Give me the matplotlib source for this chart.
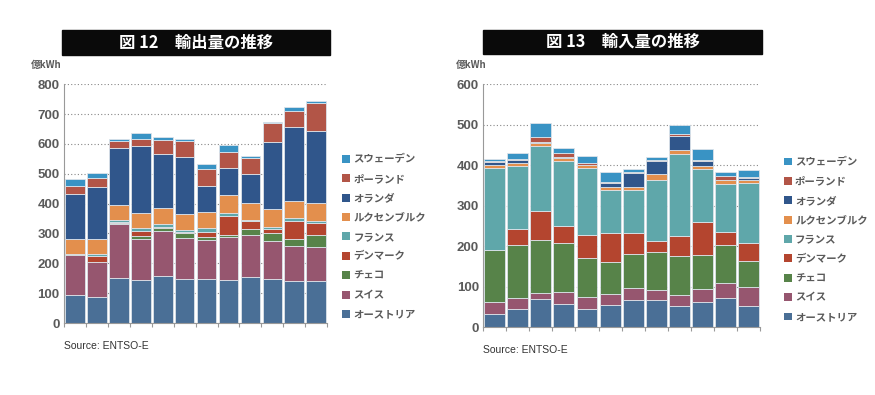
import matplotlib
matplotlib.use("Agg")
import matplotlib.pyplot as plt
import numpy as np
from matplotlib.patches import Rectangle, Patch

plt.rcParams['font.family'] = ['Noto Sans CJK JP', 'DejaVu Sans']

countries = ["オーストリア", "スイス", "チェコ", "デンマーク", "フランス",
             "ルクセンブルク", "オランダ", "ポーランド", "スウェーデン"]
colors = ["#4a6f96", "#96566f", "#578349", "#b4452f", "#5fa7aa",
          "#e38f4d", "#30568b", "#b25547", "#3993c4"]

# cumulative tops per bar (億kWh), bottom to top
export_cum = [
    [94, 229, 230, 231, 233, 281, 431, 460, 484],
    [86, 206, 206, 226, 231, 281, 456, 487, 501],
    [150, 331, 335, 339, 344, 394, 587, 611, 616],
    [144, 282, 290, 310, 318, 368, 592, 618, 638],
    [158, 309, 318, 323, 332, 384, 566, 614, 624],
    [146, 285, 300, 305, 312, 365, 555, 609, 618],
    [146, 279, 287, 304, 320, 372, 460, 517, 531],
    [144, 287, 296, 360, 369, 429, 518, 573, 596],
    [156, 296, 314, 343, 345, 402, 500, 552, 558],
    [147, 274, 302, 314, 323, 381, 606, 669, 672],
    [142, 258, 281, 341, 352, 409, 655, 710, 722],
    [142, 256, 296, 334, 343, 402, 643, 738, 744],
]
import_cum = [
    [33, 63, 190, 190, 394, 400, 407, 410, 415],
    [44, 72, 202, 243, 398, 405, 412, 416, 429],
    [69, 85, 214, 286, 448, 455, 458, 469, 503],
    [56, 86, 207, 250, 411, 418, 421, 429, 443],
    [44, 75, 170, 227, 393, 400, 401, 404, 423],
    [54, 82, 161, 232, 339, 345, 356, 358, 382],
    [68, 97, 181, 232, 338, 345, 380, 382, 391],
    [66, 91, 185, 213, 363, 377, 409, 412, 420],
    [52, 80, 175, 224, 428, 438, 471, 476, 498],
    [63, 93, 177, 260, 391, 399, 410, 412, 440],
    [73, 108, 203, 235, 354, 364, 364, 373, 384],
    [53, 99, 162, 208, 356, 364, 369, 371, 389],
]

grey = "#5a5a5a"
W, H = 875, 395


def draw_panel(ax, cum, ymax, title, box, unit_x, leg_x):
    cum = np.array(cum, dtype=float)
    seg = np.diff(np.hstack([np.zeros((cum.shape[0], 1)), cum]), axis=1)
    x = np.arange(cum.shape[0])
    bottom = np.zeros(cum.shape[0])
    for i in range(seg.shape[1]):
        ax.bar(x, seg[:, i], bottom=bottom, width=0.9, color=colors[i],
               edgecolor="#dce3ea", linewidth=0.6)
        bottom += seg[:, i]
    ax.set_xlim(-0.5, len(x) - 0.5)
    ax.set_ylim(0, ymax)
    ax.set_yticks(np.arange(0, ymax + 1, 100))
    ax.yaxis.grid(True, linestyle=(0, (1, 2)), color="#888888", linewidth=0.8)
    ax.set_axisbelow(True)
    ax.set_xticks(np.arange(-0.5, len(x), 1))
    ax.set_xticklabels([])
    ax.tick_params(axis="x", length=3, color="#999999", direction="out")
    ax.tick_params(axis="y", length=0, pad=3, labelsize=9.5, labelcolor=grey)
    for s in ["top", "right"]:
        ax.spines[s].set_visible(False)
    ax.spines["left"].set_color("#999999")
    ax.spines["bottom"].set_color("#999999")
    for lbl in ax.get_yticklabels():
        lbl.set_fontweight("bold")
        lbl.set_family(["Liberation Sans", "DejaVu Sans"])
    ax.text(unit_x, 1.08, "億kWh", transform=ax.transAxes, fontsize=7,
            color=grey, fontweight="bold", ha="center", va="center")
    ax.text(0.0, -0.075, "Source: ENTSO-E", transform=ax.transAxes,
            fontsize=7.5, color="#333333", ha="left", va="top",
            family=["Liberation Sans", "DejaVu Sans"])

    # black title box
    x0, y0, x1, y1 = box
    ax.figure.patches.append(Rectangle((x0 / W, 1 - y1 / H), (x1 - x0) / W,
                                       (y1 - y0) / H,
                                       transform=ax.figure.transFigure,
                                       color="#0a0a0a"))
    ax.figure.text((x0 + x1) / 2 / W, 1 - (y0 + y1) / 2 / H, title,
                   color="white", fontsize=11.8, fontweight="bold",
                   ha="center", va="center")

    handles = [Patch(facecolor=colors[i], edgecolor="none") for i in range(8, -1, -1)]
    labels = [countries[i] for i in range(8, -1, -1)]
    leg = ax.legend(handles, labels, loc="center left",
                    bbox_to_anchor=(leg_x, 0.36),
                    frameon=False, fontsize=7.5, handlelength=0.8,
                    handleheight=0.8, handletextpad=0.3, labelspacing=0.9)
    for t in leg.get_texts():
        t.set_color(grey)
        t.set_fontweight("bold")


fig = plt.figure(figsize=(8.75, 3.95), dpi=100)
ax1 = fig.add_axes([0.073, 0.182, 0.301, 0.605])
ax2 = fig.add_axes([0.552, 0.172, 0.317, 0.615])

draw_panel(ax1, export_cum, 800, "図 12　輸出量の推移", (62, 30, 330, 55),
           -0.068, 1.02)
draw_panel(ax2, import_cum, 600, "図 13　輸入量の推移", (483, 30, 762, 54),
           -0.043, 1.05)

fig.savefig("out.png", dpi=100)
